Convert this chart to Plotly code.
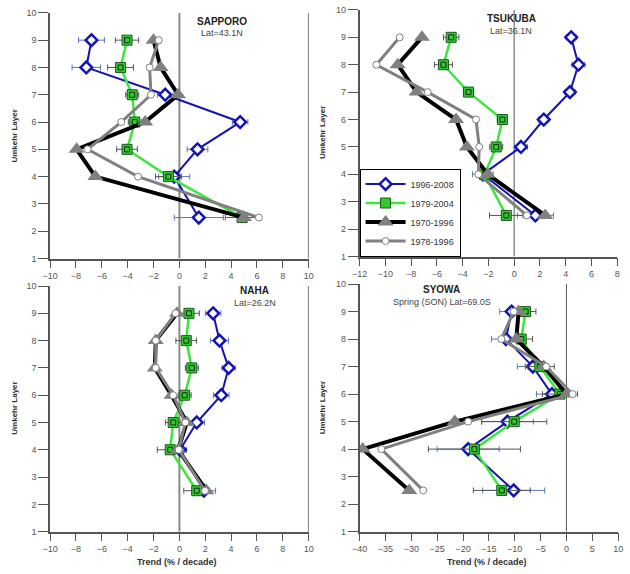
import plotly.graph_objects as go

layers = [9, 8, 7, 6, 5, 4, 2.5]
series_names = ["1996-2008", "1979-2004", "1970-1996", "1978-1996"]

# SAPPORO
sap_blue = [-6.8, -7.2, -1.1, 4.7, 1.4, -0.4, 1.5]
sap_blue_err = [1.0, 1.1, 0.6, 0.6, 0.8, 1.2, 1.9]
sap_green = [-4.05, -4.55, -3.65, -3.45, -4.05, -0.85, 4.85]
sap_green_err = [0.9, 1.0, 0.5, 0.5, 0.8, 1.0, 1.3]
sap_black = [-2.0, -1.45, -0.1, -2.65, -7.95, -6.5, 5.0]
sap_gray = [-1.6, -2.3, -2.2, -4.5, -7.1, -3.2, 6.15]

# TSUKUBA
tsu_blue = [4.43, 4.99, 4.33, 2.30, 0.53, -2.43, 1.65]
tsu_blue_err = [0.4, 0.5, 0.4, 0.4, 0.5, 0.8, 1.4]
tsu_green = [-4.89, -5.49, -3.54, -0.91, -1.39, -2.3, -0.61]
tsu_green_err = [0.6, 0.7, 0.4, 0.4, 0.5, 0.5, 1.3]
tsu_black = [-7.16, -9.04, -7.57, -4.51, -3.67, -2.05, 2.41]
tsu_gray = [-8.89, -10.7, -6.71, -2.96, -2.71, -2.78, 0.99]

# NAHA
nah_blue = [2.61, 3.1, 3.81, 3.24, 1.34, 0.05, 1.9]
nah_blue_err = [0.6, 0.7, 0.5, 0.6, 0.6, 0.5, 0.9]
nah_green = [0.74, 0.53, 0.96, 0.41, -0.48, -0.71, 1.34]
nah_green_err = [0.8, 0.8, 0.5, 0.5, 0.6, 1.0, 1.0]
nah_black = [-0.18, -1.83, -1.9, -0.61, 0.58, -0.1, 2.1]
nah_gray = [-0.3, -1.83, -1.83, -0.48, 0.46, -0.05, 1.98]

# SYOWA
syo_blue = [-10.6, -11.7, -6.5, -2.8, -11.4, -19.0, -10.2]
syo_blue_err = [2.3, 2.8, 3.0, 3.0, 5.0, 6.0, 6.0]
syo_green = [-7.9, -8.75, -5.15, -1.25, -10.1, -17.8, -12.5]
syo_green_err = [2.0, 2.2, 2.8, 3.4, 6.3, 8.9, 5.5]
syo_black = [-9.25, -9.7, -4.4, 0.0, -21.6, -39.4, -30.4]
syo_gray = [-10.2, -12.6, -3.9, 1.2, -19.0, -35.8, -27.7]

panels = [
    dict(name="SAPPORO", sub="Lat=43.1N", blue=sap_blue, be=sap_blue_err, green=sap_green, ge=sap_green_err,
         black=sap_black, gray=sap_gray, xr=[-10, 10], dt=2, px=(43, 307), py=(8, 258),
         tpos=(218, 17, 29), right=True, xtitle=False, ylab=(7, 133), legend=False),
    dict(name="TSUKUBA", sub="Lat=36.1N", blue=tsu_blue, be=tsu_blue_err, green=tsu_green, ge=tsu_green_err,
         black=tsu_black, gray=tsu_gray, xr=[-12, 8], dt=2, px=(359, 622), py=(5, 256),
         tpos=(514, 14, 26), right=False, xtitle=False, ylab=(321, 130), legend=True),
    dict(name="NAHA", sub="Lat=26.2N", blue=nah_blue, be=nah_blue_err, green=nah_green, ge=nah_green_err,
         black=nah_black, gray=nah_gray, xr=[-10, 10], dt=2, px=(43, 307), py=(286, 536),
         tpos=(252, 291, 303), right=True, xtitle=(173, 567), ylab=(7, 410), legend=False),
    dict(name="SYOWA", sub="Spring (SON) Lat=69.0S", blue=syo_blue, be=syo_blue_err, green=syo_green, ge=syo_green_err,
         black=syo_black, gray=syo_gray, xr=[-40, 10], dt=5, px=(359, 623), py=(284, 536),
         tpos=(443, 290, 302), right=False, xtitle=(489, 567), ylab=(321, 410), legend=False),
]

W, H = 630, 574
FONT = "Liberation Sans, Arial, sans-serif"
BLUE = "#1414b4"
GREEN = "#3ce63c"

fig = go.Figure()
annotations = []
shapes = []
layout = {}

for i, p in enumerate(panels):
    n = "" if i == 0 else str(i + 1)
    xa, ya = "x" + n, "y" + n
    show = p["legend"]
    fig.add_trace(go.Scatter(
        x=p["blue"], y=layers, xaxis=xa, yaxis=ya, name=series_names[0], showlegend=show,
        mode="lines+markers", line=dict(color=BLUE, width=2),
        marker=dict(symbol="diamond", size=9, color="white", line=dict(color=BLUE, width=2.5)),
        error_x=dict(type="data", array=p["be"], color="#5a78b4", thickness=1, width=3)))
    fig.add_trace(go.Scatter(
        x=p["green"], y=layers, xaxis=xa, yaxis=ya, name=series_names[1], showlegend=show,
        mode="lines+markers", line=dict(color=GREEN, width=2.5),
        marker=dict(symbol="square", size=10, color="#2ecc2e", line=dict(color="#1a5a1a", width=1)),
        error_x=dict(type="data", array=p["ge"], color="#555555", thickness=1, width=3)))
    fig.add_trace(go.Scatter(
        x=p["green"], y=layers, xaxis=xa, yaxis=ya, showlegend=False, hoverinfo="skip",
        mode="markers", marker=dict(symbol="square-open", size=5, color="#222222", line=dict(width=1))))
    fig.add_trace(go.Scatter(
        x=p["black"], y=layers, xaxis=xa, yaxis=ya, name=series_names[2], showlegend=show,
        mode="lines+markers", line=dict(color="black", width=4),
        marker=dict(symbol="triangle-up", size=14, color="#808080", line=dict(width=0))))
    fig.add_trace(go.Scatter(
        x=p["gray"], y=layers, xaxis=xa, yaxis=ya, name=series_names[3], showlegend=show,
        mode="lines+markers", line=dict(color="#808080", width=3),
        marker=dict(symbol="circle", size=7, color="white", line=dict(color="#808080", width=1))))

    x0, x1 = p["px"]
    y0, y1 = p["py"]
    axis_common = dict(showline=True, linecolor="#555555", linewidth=1.5, ticks="outside",
                       tickcolor="#555555", tickwidth=1.2, showgrid=False, zeroline=False,
                       tickfont=dict(family=FONT, size=9, color="#555555"))
    layout["xaxis" + n] = dict(domain=[x0 / W, x1 / W], anchor=ya, range=p["xr"], dtick=p["dt"],
                               tick0=0, ticklen=8, **axis_common)
    layout["yaxis" + n] = dict(domain=[1 - y1 / H, 1 - y0 / H], anchor=xa, range=[1, 10], dtick=1,
                               ticklen=10, **axis_common)
    # zero line
    shapes.append(dict(type="line", xref=xa, yref=ya, x0=0, x1=0, y0=1, y1=10,
                       line=dict(color="#8a8a8a" if p["right"] else "#555555",
                                 width=2 if p["right"] else 1), layer="below"))
    if p["right"]:
        shapes.append(dict(type="line", xref=xa, yref=ya, x0=p["xr"][1], x1=p["xr"][1], y0=1, y1=10,
                           line=dict(color="#555555", width=1.5), layer="below"))
    tx, ty1, ty2 = p["tpos"]
    annotations.append(dict(text="<b>" + p["name"] + "</b>", x=tx / W, y=1 - ty1 / H, xref="paper", yref="paper",
                            xanchor="center", yanchor="middle", showarrow=False,
                            font=dict(family=FONT, size=10, color="#222222")))
    annotations.append(dict(text=p["sub"], x=tx / W, y=1 - ty2 / H, xref="paper", yref="paper",
                            xanchor="center", yanchor="middle", showarrow=False,
                            font=dict(family=FONT, size=9, color="#444444")))
    lx, ly = p["ylab"]
    annotations.append(dict(text="<b>Umkehr Layer</b>", x=lx / W, y=1 - ly / H, xref="paper", yref="paper",
                            xanchor="center", yanchor="middle", showarrow=False, textangle=-90,
                            font=dict(family=FONT, size=8, color="#333333")))
    if p["xtitle"]:
        xx, xy = p["xtitle"]
        annotations.append(dict(text="<b>Trend (% / decade)</b>", x=xx / W, y=1 - xy / H, xref="paper",
                                yref="paper", xanchor="center", yanchor="middle", showarrow=False,
                                font=dict(family=FONT, size=9, color="#333333")))

fig.update_layout(
    width=W, height=H, margin=dict(l=0, r=0, t=0, b=0),
    paper_bgcolor="white", plot_bgcolor="white",
    showlegend=True,
    legend=dict(x=359 / W, y=1 - 256 / H, xanchor="left", yanchor="bottom",
                bgcolor="white", bordercolor="black", borderwidth=1,
                font=dict(family=FONT, size=9, color="#333333"), tracegroupgap=0,
                itemwidth=40),
    annotations=annotations, shapes=shapes,
    **layout,
)

fig.write_html("out.html")
